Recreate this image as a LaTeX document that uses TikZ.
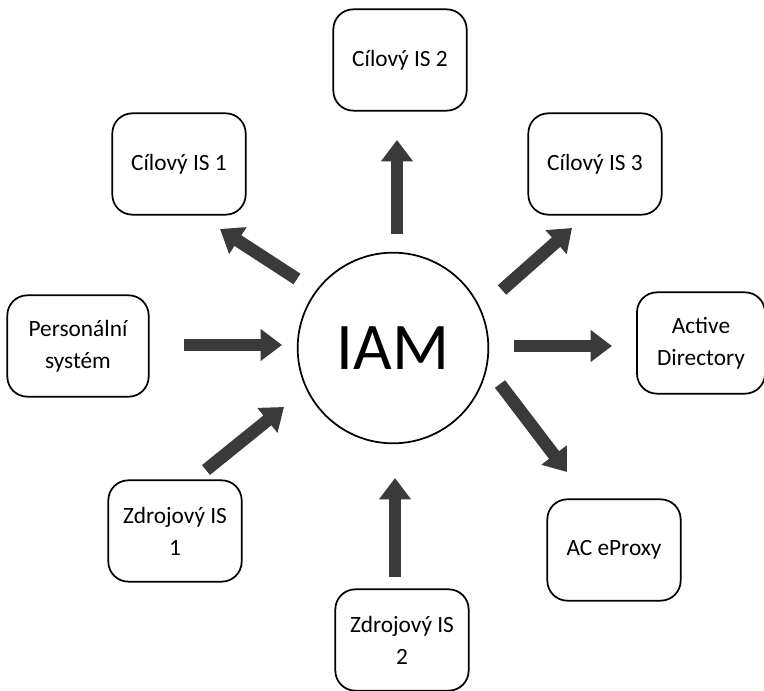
\documentclass[tikz,border=0pt]{standalone}
\usepackage{fontspec}
\setmainfont{Carlito}
\usetikzlibrary{arrows.meta}
\definecolor{arrowgray}{HTML}{3A3A3A}
\tikzset{
  sysbox/.style={draw=black, line width=1.3pt, rounded corners=15pt, align=center,
    minimum width=100pt, minimum height=76pt, inner sep=2pt,
    font=\fontsize{17.5}{24}\selectfont},
  fatarrow/.style={draw=arrowgray, line width=9.5pt,
    -{Triangle[width=23pt,length=16pt]}, arrowgray}
}
\begin{document}
\begin{tikzpicture}[x=0.75pt,y=-0.75pt]
\useasboundingbox (0,0) rectangle (764,691);
\node[draw=black, line width=1.3pt, circle, minimum size=143pt, font=\fontsize{50}{54}\selectfont] (iam) at (393,348) {IAM};
\node[sysbox] (c2) at (400,60) {Cílový IS 2};
\node[sysbox] (c1) at (179,164) {Cílový IS 1};
\node[sysbox] (c3) at (595,164) {Cílový IS 3};
\node[sysbox, minimum width=106pt] (ps) at (78,346) {Personální\\systém};
\node[sysbox, minimum width=96pt] (ad) at (701,343) {Active\\Directory};
\node[sysbox] (z1) at (175,531) {Zdrojový IS\\1};
\node[sysbox] (ac) at (614,550) {AC eProxy};
\node[sysbox] (z2) at (402,640) {Zdrojový IS\\2};
% arrow ends
\coordinate (a1s) at (184,345); \coordinate (a1e) at (282,345);
\coordinate (a2s) at (397,234); \coordinate (a2e) at (397,140);
\coordinate (a3s) at (297,279); \coordinate (a3e) at (220,229);
\coordinate (a4s) at (502,290); \coordinate (a4e) at (572,228);
\coordinate (a5s) at (514,346); \coordinate (a5e) at (612,346);
\coordinate (a6s) at (500,384); \coordinate (a6e) at (567,472);
\coordinate (a7s) at (206,470); \coordinate (a7e) at (284,407);
\coordinate (a8s) at (395,577); \coordinate (a8e) at (395,478);
\foreach \i in {1,...,8} {\draw[fatarrow] (a\i s) -- (a\i e);}
\end{tikzpicture}
\end{document}
